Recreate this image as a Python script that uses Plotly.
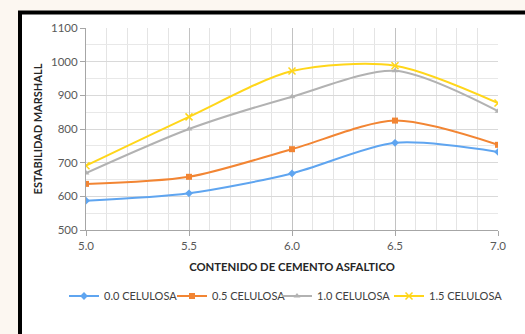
import plotly.graph_objects as go

x_vals = [5.0, 5.5, 6.0, 6.5, 7.0]
s00 = [587, 609, 668, 759, 732]
s05 = [637, 658, 740, 825, 753]
s10 = [669, 800, 896, 973, 853]
s15 = [691, 836, 972, 988, 877]
names = ["0.0 CELULOSA", "0.5 CELULOSA", "1.0 CELULOSA", "1.5 CELULOSA"]
colors = ["#5fa5f0", "#f28533", "#b2b2b2", "#ffd61a"]
symbols = ["diamond", "square", "triangle-up", "x-thin"]
series = [s00, s05, s10, s15]

W, H = 560, 334          # figure a bit wider than the 525px window; overflow is clipped
L, R, T, B = 86, 498, 28, 230

def px2paper_x(px):
    return (px - L) / (R - L)

def px2paper_y(py):
    return (B - py) / (B - T)

legend_ids = ["legend", "legend2", "legend3", "legend4"]
legend_px = [64, 172, 277, 389]

fig = go.Figure()
for name, ys, col, sym, lid in zip(names, series, colors, symbols, legend_ids):
    fig.add_trace(go.Scatter(
        x=x_vals, y=ys, name=name, mode="lines+markers", legend=lid,
        line=dict(color=col, width=2, shape="spline", smoothing=0.8),
        marker=dict(symbol=sym, size=6 if sym != "x-thin" else 7, color=col,
                    line=dict(color=col, width=1.5 if sym == "x-thin" else 0)),
    ))

# white card behind the chart
fig.add_shape(type="rect", xref="paper", yref="paper", layer="below",
              x0=px2paper_x(20), x1=px2paper_x(W + 2),
              y0=px2paper_y(H + 2), y1=px2paper_y(12.5),
              line=dict(width=0), fillcolor="white")
# black frame: left and top edges
fx0, fx1 = px2paper_x(20), px2paper_x(W + 2)
fy0, fy1 = px2paper_y(H + 2), px2paper_y(12.5)
fig.add_shape(type="path", xref="paper", yref="paper", layer="below",
              path=f"M {fx0} {fy0} L {fx0} {fy1} L {fx1} {fy1}",
              line=dict(color="black", width=4))

font = "Lato, 'Open Sans', sans-serif"
legend_common = dict(orientation="h", xanchor="left", yanchor="middle",
                     y=px2paper_y(296), itemwidth=30,
                     font=dict(size=11, color="#404040"),
                     bgcolor="rgba(0,0,0,0)", borderwidth=0)
layout_legends = {}
for lid, lx in zip(legend_ids, legend_px):
    layout_legends[lid] = dict(legend_common, x=px2paper_x(lx))

fig.update_layout(
    width=W, height=H,
    margin=dict(l=L, r=W - R, t=T, b=H - B, autoexpand=False),
    paper_bgcolor="#fcf7f1",
    plot_bgcolor="rgba(0,0,0,0)",
    font=dict(family=font, size=11, color="#595959"),
    showlegend=True,
    xaxis=dict(range=[5.0, 7.0], dtick=0.5, tick0=5.0, tickformat=".1f",
               showgrid=True, gridcolor="#c2c2c2", gridwidth=1,
               minor=dict(dtick=0.1, showgrid=True, gridcolor="#e4e4e4", gridwidth=1),
               ticks="outside", ticklen=5, tickcolor="#a6a6a6",
               showline=True, linecolor="#a6a6a6", zeroline=False,
               tickfont=dict(size=11.5, color="#595959"),
               automargin=True,
               title=dict(text="<b>CONTENIDO DE CEMENTO ASFALTICO</b>",
                          font=dict(size=11.3, color="#262626"), standoff=12)),
    yaxis=dict(range=[500, 1100], dtick=100,
               showgrid=True, gridcolor="#d9d9d9", gridwidth=1,
               minor=dict(dtick=50, showgrid=True, gridcolor="#e8e8e8", gridwidth=1),
               ticks="outside", ticklen=5, tickcolor="#a6a6a6",
               showline=True, linecolor="#a6a6a6", zeroline=False,
               tickfont=dict(size=11.5, color="#595959"),
               automargin=True,
               title=dict(text="<b>ESTABILIDAD MARSHALL</b>",
                          font=dict(size=11, color="#262626"), standoff=6)),
    **layout_legends,
)

fig.write_html("out.html",
               config={"displayModeBar": False},
               post_script="document.body.style.margin='0';document.body.style.background='#fcf7f1';document.body.style.overflow='hidden';")
